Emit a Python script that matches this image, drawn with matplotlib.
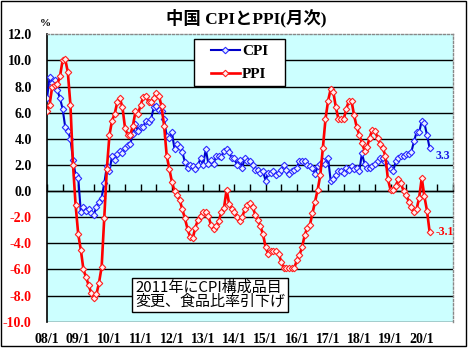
import numpy as np
import matplotlib
matplotlib.use("Agg")
import matplotlib.pyplot as plt
from matplotlib.path import Path
from matplotlib.patches import Rectangle

plt.rcParams['font.family'] = ['Liberation Serif', 'Noto Sans CJK JP', 'DejaVu Sans']
plt.rcParams['axes.unicode_minus'] = False

# China CPI / PPI, year-on-year change (%), monthly from 2008/1
cpi = [
    7.1, 8.7, 8.3, 8.5, 7.7, 7.1, 6.3, 4.9, 4.6, 4.0, 2.4, 1.2,          # 2008
    1.0, -1.6, -1.2, -1.5, -1.4, -1.7, -1.8, -1.2, -0.8, -0.5, 0.6, 1.9,  # 2009
    1.5, 2.7, 2.4, 2.8, 3.1, 2.9, 3.3, 3.5, 3.6, 4.4, 5.1, 4.6,          # 2010
    4.9, 4.9, 5.4, 5.3, 5.5, 6.4, 6.5, 6.2, 6.1, 5.5, 4.2, 4.1,          # 2011
    4.5, 3.2, 3.6, 3.4, 3.0, 2.2, 1.8, 2.0, 1.9, 1.7, 2.0, 2.5,          # 2012
    2.0, 3.2, 2.1, 2.4, 2.1, 2.7, 2.7, 2.6, 3.1, 3.2, 3.0, 2.5,          # 2013
    2.5, 2.0, 2.4, 1.8, 2.5, 2.3, 2.3, 2.0, 1.6, 1.6, 1.4, 1.5,          # 2014
    0.8, 1.4, 1.4, 1.5, 1.2, 1.4, 1.6, 2.0, 1.6, 1.3, 1.5, 1.6,          # 2015
    1.8, 2.3, 2.3, 2.3, 2.0, 1.9, 1.8, 1.3, 1.9, 2.1, 2.3, 2.1,          # 2016
    2.5, 0.8, 0.9, 1.2, 1.5, 1.5, 1.4, 1.8, 1.6, 1.9, 1.7, 1.8,          # 2017
    1.5, 2.9, 2.1, 1.8, 1.8, 1.9, 2.1, 2.3, 2.5, 2.5, 2.2, 1.9,          # 2018
    1.7, 1.5, 2.3, 2.5, 2.7, 2.7, 2.8, 2.8, 3.0, 3.8, 4.5, 4.5,          # 2019
    5.4, 5.2, 4.3, 3.3,                                                  # 2020
]
ppi = [
    6.1, 6.6, 8.0, 8.1, 8.2, 8.8, 10.0, 10.1, 9.1, 6.6, 2.0, -1.1,       # 2008
    -3.3, -4.5, -6.0, -6.6, -7.2, -7.8, -8.2, -7.9, -7.0, -5.8, -2.1, 1.7,  # 2009
    4.3, 5.4, 5.9, 6.8, 7.1, 6.4, 4.8, 4.3, 4.3, 5.0, 6.1, 5.9,          # 2010
    6.6, 7.2, 7.3, 6.8, 6.8, 7.1, 7.5, 7.3, 6.5, 5.0, 2.7, 1.7,          # 2011
    0.7, 0.0, -0.3, -0.7, -1.4, -2.1, -2.9, -3.5, -3.6, -2.8, -2.2, -1.9,  # 2012
    -1.6, -1.6, -1.9, -2.6, -2.9, -2.7, -2.3, -1.6, -1.3, 0.1, -1.0, -1.4,  # 2013
    -1.6, -2.0, -2.3, -2.0, -1.4, -1.1, -0.9, -1.2, -1.8, -2.2, -2.7, -3.3,  # 2014
    -4.3, -4.8, -4.6, -4.6, -4.6, -4.8, -5.4, -5.9, -5.9, -5.9, -5.9, -5.9,  # 2015
    -5.3, -4.9, -4.3, -3.4, -2.8, -2.6, -1.7, -0.8, 0.1, 1.2, 3.3, 5.5,  # 2016
    6.9, 7.8, 7.6, 6.4, 5.5, 5.5, 5.5, 6.3, 6.9, 6.9, 5.8, 4.9,          # 2017
    4.3, 3.7, 3.1, 3.4, 4.1, 4.7, 4.6, 4.1, 3.6, 3.3, 2.7, 0.9,          # 2018
    0.1, 0.1, 0.4, 0.9, 0.6, 0.0, -0.3, -0.8, -1.2, -1.6, -1.4, -0.5,    # 2019
    1.0, -0.4, -1.5, -3.1,                                               # 2020
]
year_labels = ["08/1", "09/1", "10/1", "11/1", "12/1", "13/1", "14/1",
               "15/1", "16/1", "17/1", "18/1", "19/1", "20/1"]
y_ticks = list(range(-10, 13, 2))
title = "中国 CPIとPPI(月次)"
note = "2011年にCPI構成品目\n変更、食品比率引下げ"

months = np.arange(len(cpi))

W, H = 472, 348
fig = plt.figure(figsize=(W / 100, H / 100), dpi=100)
fig.patch.set_facecolor("white")
ax = fig.add_axes([47 / W, 1 - 321.7 / H, 406 / W, 287.4 / H])
ax.set_facecolor("#CCFFFF")

cpi_line, = ax.plot(months, cpi, color="#0000C8", lw=1.5, marker="D", ms=3.3,
                    mec="#2A2AFF", mfc="#E8F4FF", mew=0.8, label="CPI", zorder=3)
ppi_line, = ax.plot(months, ppi, color="#FF0000", lw=1.9, marker="D", ms=3.3,
                    mec="#FF2020", mfc="#FFF0F0", mew=0.8, label="PPI", zorder=4)

ax.set_xlim(0, 156)
ax.set_ylim(-10, 12)

# horizontal grid
ax.set_yticks(y_ticks)
ax.set_yticklabels([f"{v:.1f}" for v in y_ticks])
ax.yaxis.grid(True, color="black", lw=1.0)
ax.get_ygridlines()[-1].set_visible(False)
ax.set_axisbelow(True)
ax.tick_params(axis="y", length=0, pad=11, labelsize=10)
for lab, v in zip(ax.get_yticklabels(), y_ticks):
    lab.set_fontweight("bold")
    lab.set_color("red" if v < 0 else "black")

# month ticks on the zero line
ax.spines["bottom"].set_position(("data", 0))
ax.spines["bottom"].set_linewidth(1.0)
ax.set_xticks(np.arange(0, 157, 6))
ax.tick_params(axis="x", direction="in", length=5, width=1.0, labelbottom=False)

ax.spines["left"].set_linewidth(1.2)
for side in ("top", "right"):
    ax.spines[side].set_color("#888888")
    ax.spines[side].set_linestyle((0, (1.5, 1.5)))
    ax.spines[side].set_linewidth(1.0)

# year labels along the bottom
sec = ax.secondary_xaxis("bottom")
sec.set_xticks(np.arange(0, 12 * len(year_labels), 12))
sec.set_xticklabels(year_labels)
sec.tick_params(length=0, pad=8, labelsize=10)
sec.spines["bottom"].set_visible(False)
for lab in sec.get_xticklabels():
    lab.set_fontweight("bold")

# latest values
ax.annotate(f"{cpi[-1]:.1f}", xy=(months[-1], cpi[-1]), xytext=(4.5, -5.5),
            textcoords="offset points", ha="left", va="center",
            fontsize=8.5, fontweight="bold", color="#1A1AE6")
ax.annotate(f"{ppi[-1]:.1f}", xy=(months[-1], ppi[-1]), xytext=(4, -0.5),
            textcoords="offset points", ha="left", va="center",
            fontsize=8.5, fontweight="bold", color="red")

# note box
ax.text((135 - 47) / 406, (321.7 - 295) / 287.4, note, transform=ax.transAxes,
        ha="left", va="center", fontsize=10.8, linespacing=0.98,
        family=["Noto Sans CJK JP", "DejaVu Sans"], zorder=6,
        bbox=dict(boxstyle="square,pad=0.22", fc="white", ec="black", lw=1.0))


def legend_frame(x0, y0, width, height, mutation_size):
    padx = 0.75 * mutation_size
    x0 -= padx
    width += 2 * padx
    return Path([(x0, y0), (x0 + width, y0), (x0 + width, y0 + height),
                 (x0, y0 + height), (x0, y0)], closed=True)


leg = ax.legend(handles=[cpi_line, ppi_line], loc="upper left",
                bbox_to_anchor=((194 + 11.5 - 47) / 406, (321.7 - 39) / 287.4),
                borderaxespad=0, borderpad=0.35, labelspacing=0.6,
                handlelength=1.9, handletextpad=0.15, fancybox=False,
                framealpha=1, edgecolor="black",
                prop={"size": 11, "weight": "bold"})
leg.get_frame().set_linewidth(1.0)
leg.get_frame().set_boxstyle(legend_frame)
leg.set_zorder(7)

fig.text(246 / W, 1 - 18 / H, title, ha="center", va="center",
         fontsize=12.5, fontweight="bold")
fig.text(45.5 / W, 1 - 23 / H, "%", ha="center", va="center",
         fontsize=8, fontweight="bold")

fig.patches.append(Rectangle((0.5 / W, 1 - 346 / H), 465.5 / W, 345.5 / H,
                             transform=fig.transFigure, fill=False,
                             ec="black", lw=1.0))

fig.savefig("out.png", dpi=100)
